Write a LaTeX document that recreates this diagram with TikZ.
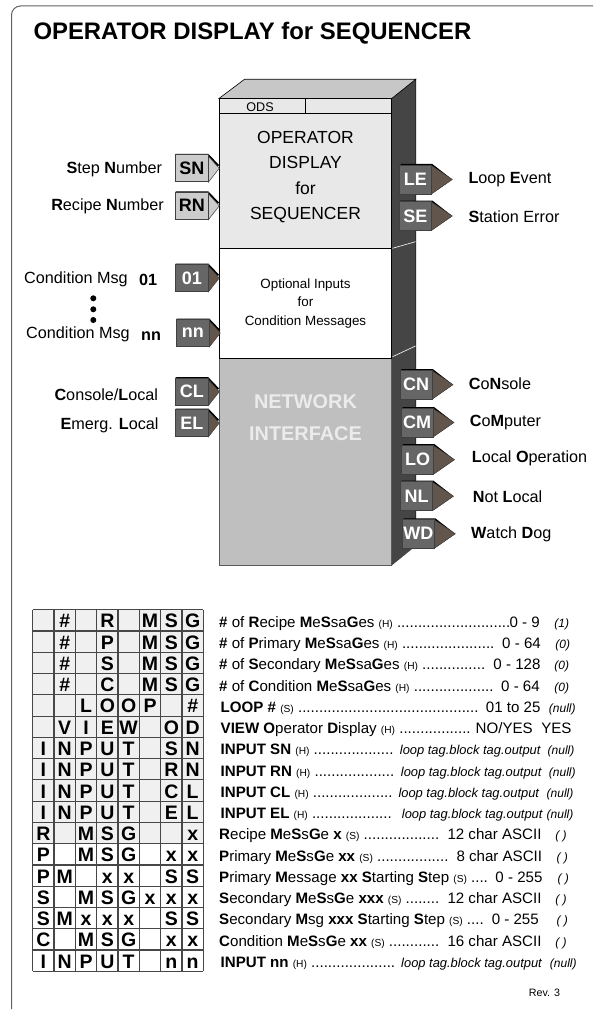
\documentclass[tikz,border=0pt]{standalone}
\usepackage{fontspec}
\setmainfont{Liberation Sans}
\definecolor{lite}{gray}{0.91}
\definecolor{topc}{gray}{0.78}
\definecolor{sidec}{gray}{0.27}
\definecolor{midc}{gray}{0.75}
\definecolor{tagd}{gray}{0.40}
\definecolor{tagl}{gray}{0.80}
\definecolor{tipc}{RGB}{98,86,76}
\definecolor{cellc}{gray}{0.94}
\definecolor{gridc}{gray}{0.28}
\tikzset{
 x=1pt,y=-1pt,
 lab/.style={inner sep=0pt,font=\fontsize{16.2}{16.2}\selectfont},
 tbl/.style={inner sep=0pt,anchor=base,font=\fontsize{19.5}{19.5}\bfseries\selectfont},
 par/.style={inner sep=0pt,anchor=base west,font=\fontsize{15.1}{15.1}\selectfont},
 val/.style={inner sep=0pt,anchor=base east,font=\fontsize{15.1}{15.1}\selectfont},
 dflt/.style={inner sep=0pt,anchor=base,font=\fontsize{12}{12}\itshape\selectfont},
 tagtxt/.style={inner sep=0pt,font=\fontsize{18}{18}\bfseries\selectfont},
}
\newcommand{\sm}[1]{{\fontsize{10.2}{10.2}\selectfont #1}}
\newcommand{\tagitl}[1]{{\fontsize{12.9}{12.9}\itshape\selectfont #1}}
% input tag: name, x, y(center), fill, text colour, tip colour, text
\newcommand{\intag}[7]{%
 \fill[black] (#2,#3-14.5) -- (#2+33,#3-14.5) -- (#2+44,#3-3) -- (#2+33,#3+2) -- cycle;
 \fill[#6,draw=black!75,line width=0.5pt] (#2+33,#3-12) -- (#2+44,#3) -- (#2+33,#3+14) -- cycle;
 \node[draw=black!75,line width=0.7pt,fill=#4,minimum width=33pt,minimum height=27pt,inner sep=0pt,text=#5,tagtxt] (#1) at (#2+16.5,#3) {#7};
}
% output tag: name, x, y(center), text
\newcommand{\outtag}[4]{%
 \fill[black] (#2+1,#3-15.5) -- (#2+33,#3-15.5) -- (#2+53,#3) -- (#2+33,#3+14) -- cycle;
 \fill[tipc,draw=black!75,line width=0.4pt] (#2+32,#3-14) -- (#2+53,#3) -- (#2+32,#3+14.5) -- cycle;
 \node[draw=black!75,line width=0.7pt,fill=tagd,minimum width=32pt,minimum height=29pt,inner sep=0pt,text=white,tagtxt] (#1) at (#2+16,#3) {#4};
}
\begin{document}
\begin{tikzpicture}
\useasboundingbox (0,0) rectangle (594,1011);
\fill[white] (0,0) rectangle (594,1011);
% page frame
\draw[black!62,line width=1pt,rounded corners=9pt] (11.5,1009) -- (11.5,6) -- (593,6);
\node[inner sep=0pt,anchor=base west,font=\fontsize{23.9}{23.9}\bfseries\selectfont] (title) at (33.3,40) {OPERATOR DISPLAY for SEQUENCER};
% block
\fill[sidec] (391.7,98.5) -- (415.7,79.3) -- (415.7,546) -- (391.7,565.5) -- cycle;
\draw[black,line width=0.6pt] (391.7,98.5) -- (415.7,79.3) -- (415.7,546);
\fill[topc,draw=black,line width=0.6pt] (219,98.5) -- (244.5,79.3) -- (415.7,79.3) -- (391.7,98.5) -- cycle;
\fill[lite] (219,98.5) rectangle (391.7,248);
\fill[white] (219,248) rectangle (391.7,358);
\fill[midc] (219,358) rectangle (391.7,565.5);
\draw[black,line width=0.7pt] (219,358) -- (219,98.5) -- (391.7,98.5) -- (391.7,358);
\draw[black!65,line width=0.8pt] (219,358) -- (219,565.5) -- (391.7,565.5) -- (391.7,358);
\draw[black,line width=0.6pt] (219,113) -- (391.7,113);
\draw[black,line width=0.6pt] (219,248) -- (391.7,248);
\draw[black,line width=0.6pt] (219,358) -- (391.7,358);
\draw[black,line width=0.6pt] (305.7,98.5) -- (305.7,113);
\draw[white,line width=0.6pt] (392.5,248.3) -- (415.5,241.7);
\draw[white,line width=0.6pt] (392.5,356.7) -- (415.5,346);
\node[inner sep=0pt,font=\fontsize{12.6}{12.6}\selectfont] (ods) at (260,107.5) {ODS};
\node[inner sep=0pt,align=center,font=\fontsize{17.5}{25.2}\selectfont] (t1) at (305.5,177) {OPERATOR\\DISPLAY\\for\\SEQUENCER};
\node[inner sep=0pt,align=center,font=\fontsize{13.4}{18.2}\selectfont] (t2) at (305.5,303.5) {Optional Inputs\\for\\Condition Messages};
\node[inner sep=0pt,align=center,text=white!92!black,font=\fontsize{19.9}{31.5}\bfseries\selectfont] (t3) at (305.5,417.5) {NETWORK\\INTERFACE};
% inputs
\intag{sn}{175.3}{168.3}{tagl}{black}{tagl}{SN}
\intag{rn}{175.3}{205.8}{tagl}{black}{tagl}{RN}
\intag{c1}{175.3}{278}{tagd}{white}{tipc}{01}
\intag{cn}{176.3}{333}{tagd}{white}{tipc}{nn}
\intag{cl}{175.3}{391.7}{tagd}{white}{tipc}{CL}
\intag{el}{175.3}{423}{tagd}{white}{tipc}{EL}
\node[lab,anchor=east] (l1) at (162.3,169.5) {\textbf{S}tep \textbf{N}umber};
\node[lab,anchor=east] (l2) at (164,206.7) {\textbf{R}ecipe \textbf{N}umber};
\node[lab,anchor=west] (l3) at (24,279.3) {Condition Msg};
\node[lab,anchor=west,font=\fontsize{16.2}{16.2}\bfseries\selectfont] (l3b) at (139,279.5) {01};
\node[lab,anchor=west] (l4) at (26,334.3) {Condition Msg};
\node[lab,anchor=west,font=\fontsize{16.2}{16.2}\bfseries\selectfont] (l4b) at (141,336) {nn};
\foreach \yy in {298.3,309.3,320} \fill (93.3,\yy) circle (3);
\node[lab,anchor=east] (l5) at (158.3,395) {\textbf{C}onsole/\textbf{L}ocal};
\node[lab,anchor=east] (l6) at (158.7,425.7) {\textbf{E}merg. \textbf{L}ocal};
% outputs
\outtag{le}{399.3}{179.5}{LE}
\outtag{se}{399.3}{216}{SE}
\outtag{cno}{400}{384.7}{CN}
\outtag{cmo}{401}{422.5}{CM}
\outtag{lo}{401.5}{459.7}{LO}
\outtag{nl}{400.5}{496.2}{NL}
\outtag{wd}{402.3}{533.8}{WD}
\node[lab,anchor=west] (r1) at (468.3,180) {\textbf{L}oop \textbf{E}vent};
\node[lab,anchor=west] (r2) at (468.3,216.7) {\textbf{S}tation Error};
\node[lab,anchor=west] (r3) at (468.7,384) {\textbf{C}o\textbf{N}sole};
\node[lab,anchor=west] (r4) at (469.7,422.7) {\textbf{C}o\textbf{M}puter};
\node[lab,anchor=west] (r5) at (471.7,458.3) {\textbf{L}ocal \textbf{O}peration};
\node[lab,anchor=west] (r6) at (472.7,496.7) {\textbf{N}ot \textbf{L}ocal};
\node[lab,anchor=west] (r7) at (471,534) {\textbf{W}atch \textbf{D}og};
% table
\fill[cellc] (32.7,609.7) rectangle (203.3,843.7);
\foreach \rr [count=\i from 0] in {
 {{},\#,{},R,{},M,S,G},
 {{},\#,{},P,{},M,S,G},
 {{},\#,{},S,{},M,S,G},
 {{},\#,{},C,{},M,S,G},
 {{},{},L,O,O,P,{},\#},
 {{},V,I,E,W,{},O,D},
 {I,N,P,U,T,{},S,N},
 {I,N,P,U,T,{},R,N},
 {I,N,P,U,T,{},C,L},
 {I,N,P,U,T,{},E,L},
 {R,{},M,S,G,{},{},x},
 {P,{},M,S,G,{},x,x},
 {P,M,{},x,x,{},S,S},
 {S,{},M,S,G,x,x,x},
 {S,M,x,x,x,{},S,S},
 {C,{},M,S,G,{},x,x},
 {I,N,P,U,T,{},n,n}}{
  \foreach \cc [count=\j from 0] in \rr {
    \node[tbl] (cell-\i-\j) at ({32.7+21.33*\j+10.66},{609.7+21.27*\i+18.2}) {\cc};
  }
}
\foreach \i in {0,...,17} \draw[gridc,line width=1.1pt] (32.7,{609.7+21.27*\i}) -- (203.3,{609.7+21.27*\i});
\foreach \j in {0,...,8} \draw[gridc,line width=1.1pt] ({32.7+21.33*\j},609.7) -- ({32.7+21.33*\j},971.3);
% parameter list
\node[par] (p1) at (219,627.3) {\textbf{\#} of \textbf{R}ecipe \textbf{M}e\textbf{S}sa\textbf{G}es \sm{(H)} ...........................};
\node[val] (v1) at (540,627.3) {0 - 9};
\node[dflt] (d1) at (561.7,627.3) {(1)};
\node[par] (p2) at (219,648.5) {\textbf{\#} of \textbf{P}rimary \textbf{M}e\textbf{S}sa\textbf{G}es \sm{(H)} ......................};
\node[val] (v2) at (541,648.5) {0 - 64};
\node[dflt] (d2) at (562.7,648.5) {(0)};
\node[par] (p3) at (219,669.8) {\textbf{\#} of \textbf{S}econdary \textbf{M}e\textbf{S}sa\textbf{G}es \sm{(H)} ...............};
\node[val] (v3) at (540.7,669.8) {0 - 128};
\node[dflt] (d3) at (561.7,669.8) {(0)};
\node[par] (p4) at (219,691) {\textbf{\#} of \textbf{C}ondition \textbf{M}e\textbf{S}sa\textbf{G}es \sm{(H)} ...................};
\node[val] (v4) at (540,691) {0 - 64};
\node[dflt] (d4) at (561.7,691) {(0)};
\node[par] (p5) at (220.5,712.3) {\textbf{LOOP \#} \sm{(S)} ...........................................};
\node[val] (v5) at (540.7,712.3) {01 to 25};
\node[dflt] (d5) at (562.3,712.3) {(null)};
\node[par] (p6) at (220.5,733.6) {\textbf{VIEW O}perator \textbf{D}isplay \sm{(H)} .................};
\node[val] (v6) at (533,733.6) {NO/YES};
\node[val] (d6) at (571.7,733.6) {YES};
\node[par] (p7) at (220.5,754.8) {\textbf{INPUT SN} \sm{(H)} ...................};
\node[val] (v7) at (540.7,754.8) {\tagitl{loop tag.block tag.output}};
\node[dflt] (d7) at (561,754.8) {(null)};
\node[par] (p8) at (220.5,776) {\textbf{INPUT RN} \sm{(H)} ...................};
\node[val] (v8) at (541.7,776) {\tagitl{loop tag.block tag.output}};
\node[dflt] (d8) at (562.3,776) {(null)};
\node[par] (p9) at (220.5,797.3) {\textbf{INPUT CL} \sm{(H)} ...................};
\node[val] (v9) at (539.3,797.3) {\tagitl{loop tag.block tag.output}};
\node[dflt] (d9) at (560,797.3) {(null)};
\node[par] (p10) at (220.5,818.5) {\textbf{INPUT EL} \sm{(H)} ...................};
\node[val] (v10) at (542.7,818.5) {\tagitl{loop tag.block tag.output}};
\node[dflt] (d10) at (560,818.5) {(null)};
\node[par] (p11) at (219,839.8) {\textbf{R}ecipe \textbf{M}e\textbf{S}s\textbf{G}e \textbf{x} \sm{(S)} ..................};
\node[val] (v11) at (541.7,839.8) {12 char ASCII};
\node[dflt] (d11) at (561,839.8) {( )};
\node[par] (p12) at (219,861) {\textbf{P}rimary \textbf{M}e\textbf{S}s\textbf{G}e \textbf{xx} \sm{(S)} .................};
\node[val] (v12) at (542.3,861) {8 char ASCII};
\node[dflt] (d12) at (562.3,861) {( )};
\node[par] (p13) at (219,882.3) {\textbf{P}rimary \textbf{M}essage \textbf{xx S}tarting \textbf{S}tep \sm{(S)} ....};
\node[val] (v13) at (542.7,882.3) {0 - 255};
\node[dflt] (d13) at (563.3,882.3) {( )};
\node[par] (p14) at (219,903.5) {\textbf{S}econdary \textbf{M}e\textbf{S}s\textbf{G}e \textbf{xxx} \sm{(S)} ........};
\node[val] (v14) at (541.7,903.5) {12 char ASCII};
\node[dflt] (d14) at (561,903.5) {( )};
\node[par] (p15) at (219,924.8) {\textbf{S}econdary \textbf{M}sg \textbf{xxx S}tarting \textbf{S}tep \sm{(S)} ....};
\node[val] (v15) at (539,924.8) {0 - 255};
\node[dflt] (d15) at (562.3,924.8) {( )};
\node[par] (p16) at (219,946) {\textbf{C}ondition \textbf{M}e\textbf{S}s\textbf{G}e \textbf{xx} \sm{(S)} ............};
\node[val] (v16) at (541.7,946) {16 char ASCII};
\node[dflt] (d16) at (561,946) {( )};
\node[par] (p17) at (220.5,967.3) {\textbf{INPUT nn} \sm{(H)} ....................};
\node[val] (v17) at (542,967.3) {\tagitl{loop tag.block tag.output}};
\node[dflt] (d17) at (563.3,967.3) {(null)};
\node[inner sep=0pt,font=\fontsize{10.7}{10.7}\selectfont] (rev) at (544.5,993) {Rev. 3};
\end{tikzpicture}
\end{document}
